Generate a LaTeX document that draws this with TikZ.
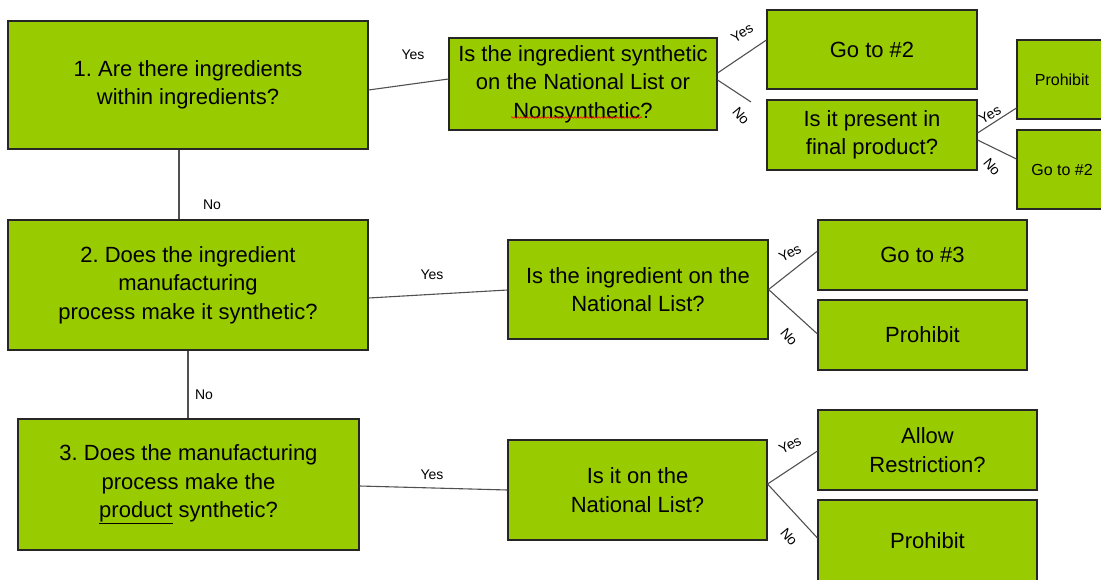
\documentclass[tikz,border=0pt]{standalone}
\usepackage{fontspec}
\setmainfont{Liberation Sans}
\usetikzlibrary{calc,decorations.pathmorphing}
\definecolor{boxgreen}{HTML}{99CC00}
\definecolor{boxline}{HTML}{262626}
\definecolor{conline}{HTML}{505050}
\frenchspacing
\begin{document}
\begin{tikzpicture}[x=1pt,y=-1pt,
  box/.style={draw=boxline, fill=boxgreen, line width=1.1pt, inner sep=0pt, align=center,
              font=\fontsize{22}{28.5}\selectfont},
  smallbox/.style={box, font=\fontsize{16}{19}\selectfont},
  con/.style={draw=conline, line width=1.1pt},
  lab/.style={font=\fontsize{14}{16}\selectfont, inner sep=0pt, text=black}]
\useasboundingbox (0,0) rectangle (1101,579);

% boxes
\node[box, minimum width=360pt, minimum height=128pt] (B1) at (188,85)
  {1. Are there ingredients\\within ingredients?};
\node[box, minimum width=268pt, minimum height=92pt] (Q1) at (583,84)
  {Is the ingredient synthetic\\on the National List or\\Nonsynthetic?};
\node[box, minimum width=210pt, minimum height=79pt] (G1) at (872,49.5) {Go to \#2};
\node[box, minimum width=210pt, minimum height=70pt] (P) at (872,135)
  {Is it present in\\final product?};
\node[smallbox, minimum width=90pt, minimum height=79pt] (Pr1) at (1062,79.5) {Prohibit};
\node[smallbox, minimum width=90pt, minimum height=79pt] (Gs) at (1062,169.5) {Go to \#2};

\node[box, minimum width=360pt, minimum height=130pt] (B2) at (188,285)
  {2. Does the ingredient\\manufacturing\\process make it synthetic?};
\node[box, minimum width=260pt, minimum height=99pt] (Q2) at (638,289.5)
  {Is the ingredient on the\\National List?};
\node[box, minimum width=209pt, minimum height=70pt] (G3) at (922.5,255) {Go to \#3};
\node[box, minimum width=209pt, minimum height=70pt] (Pr2) at (922.5,335) {Prohibit};

\node[box, minimum width=341pt, minimum height=131pt] (B3) at (188.5,484.5)
  {3. Does the manufacturing\\process make the\\\underline{product} synthetic?};
\node[box, minimum width=259pt, minimum height=100pt] (Q3) at (637.5,490)
  {Is it on the\\National List?};
\node[box, minimum width=219pt, minimum height=80pt] (Al) at (927.5,450)
  {Allow\\Restriction?};
\node[box, minimum width=219pt, minimum height=82pt] (Pr3) at (927.5,541) {Prohibit};

% spell-check squiggle under "Nonsynthetic"
\draw[red, line width=0.6pt, decorate, decoration={snake, amplitude=0.8pt, segment length=3pt}]
  (511,117.5) -- (642,117.5);

% free end of the short "No" line
\coordinate (n1) at (751,102);

% connectors
\draw[con] ($(B1.east)+(0,5)$) -- ($(Q1.west)+(0,-5)$);
\draw[con] ($(Q1.east)+(0,-11)$) -- ($(G1.west)+(0,-9.5)$);
\draw[con] ($(Q1.east)+(0,-4)$) -- (n1);
\draw[con] ($(P.east)+(0,-2)$) -- ($(Pr1.west)+(0,28.5)$);
\draw[con] ($(P.east)+(0,5)$) -- ($(Gs.west)+(0,-10.5)$);
\draw[con] ($(B1.south)+(-9,0)$) -- ($(B2.north)+(-9,0)$);
\draw[con] ($(B2.east)+(0,13)$) -- ($(Q2.west)+(0,0.5)$);
\draw[con] (Q2.east) -- ($(G3.west)+(0,-4)$);
\draw[con] (Q2.east) -- ($(Pr2.west)+(0,-1)$);
\draw[con] (B2.south) -- ($(B3.north)+(-0.5,0)$);
\draw[con] ($(B3.east)+(0,1.5)$) -- (Q3.west);
\draw[con] ($(Q3.east)+(0,-6)$) -- ($(Al.west)+(0,1)$);
\draw[con] ($(Q3.east)+(0,-6)$) -- ($(Pr3.west)+(0,-3)$);

% labels
\node[lab] (l1) at (413,55) {Yes};
\node[lab, rotate=32] (l2) at (742,33) {Yes};
\node[lab, rotate=-50] (l3) at (741,116) {No};
\node[lab, rotate=30] (l4) at (990,115) {Yes};
\node[lab, rotate=-50] (l5) at (992,167) {No};
\node[lab] (l6) at (212,205) {No};
\node[lab] (l7) at (432,275) {Yes};
\node[lab, rotate=28] (l8) at (790,253) {Yes};
\node[lab, rotate=-50] (l9) at (789,337) {No};
\node[lab] (l10) at (204,395) {No};
\node[lab] (l11) at (432,475) {Yes};
\node[lab, rotate=28] (l12) at (790,445) {Yes};
\node[lab, rotate=-50] (l13) at (789,537) {No};
\end{tikzpicture}
\end{document}
